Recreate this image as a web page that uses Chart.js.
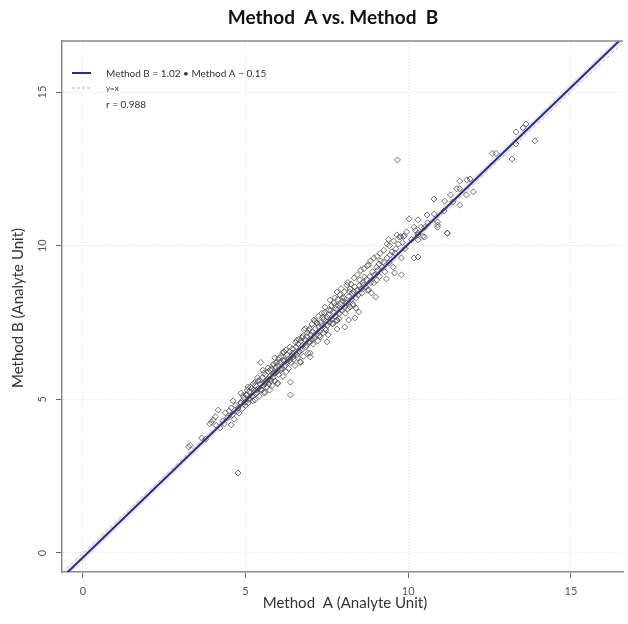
<!DOCTYPE html>
<html>
<head>
<meta charset="utf-8">
<script src="https://cdn.jsdelivr.net/npm/chart.js@4/dist/chart.umd.min.js"></script>
<style>
html,body{margin:0;padding:0;background:#fff;}
#wrap{width:628px;height:624px;}
</style>
</head>
<body>
<div id="wrap"><canvas id="chart" width="628" height="624"></canvas></div>
<script>

// tick labels
const xTicks = [0, 5, 10, 15]
const yTicks = [0, 5, 10, 15]

// regression shown in legend
const slope = 1.02
const intercept = -0.15
const rValue = "0.988"

// Method A values (x)
const methodA = [
3.25,3.3,3.65,3.77,3.9,3.95,4.01,4.07,4.16,4.22,4.1,4.3,4.35,4.38,4.45,4.5,4.56,4.56,4.6,4.65,
4.7,4.77,4.77,4.8,4.85,4.86,4.86,4.9,4.95,5.0,5.02,5.05,5.08,5.1,5.12,5.15,5.2,5.22,5.25,5.29,
5.3,5.35,5.38,5.4,5.42,5.45,5.47,5.5,5.52,5.55,5.58,5.59,5.6,5.62,5.65,5.68,5.7,5.72,5.74,5.75,
5.78,5.8,5.82,5.85,5.88,5.9,5.9,5.92,5.95,5.98,5.99,6.0,6.02,6.05,6.08,6.1,6.12,6.15,6.18,6.2,
6.22,6.25,6.28,6.3,6.32,6.35,6.38,6.38,6.4,6.42,6.45,6.48,6.5,6.52,6.55,6.58,6.6,6.62,6.65,6.68,
6.69,6.7,6.72,6.75,6.78,6.8,6.82,6.85,6.88,6.9,6.92,6.95,6.99,6.99,6.99,7.0,7.02,7.05,7.08,7.1,
7.12,7.15,7.18,7.2,7.22,7.25,7.28,7.3,7.32,7.35,7.38,7.4,7.42,7.45,7.48,7.5,7.5,7.52,7.55,7.58,
7.6,7.62,7.65,7.68,7.7,7.72,7.75,7.78,7.8,7.81,7.81,7.81,7.85,7.88,7.9,7.92,7.95,7.98,8.02,8.05,
8.05,8.08,8.11,8.11,8.15,8.17,8.18,8.21,8.21,8.25,8.28,8.3,8.33,8.36,8.36,8.39,8.4,8.43,8.46,8.48,
8.5,8.51,8.55,8.58,8.6,8.63,8.66,8.7,8.72,8.75,8.78,8.78,8.82,8.85,8.87,8.9,8.94,8.96,9.0,9.03,
9.03,9.06,9.1,9.12,9.15,9.2,9.24,9.28,9.33,9.35,9.39,9.42,9.42,9.45,9.5,9.54,9.58,9.6,9.62,9.67,
9.7,9.73,9.76,9.79,9.79,9.82,9.85,9.88,9.9,9.95,10.03,10.1,10.18,10.18,10.22,10.3,10.3,10.3,10.3,10.3,
10.4,10.45,10.5,10.5,10.58,10.6,10.79,10.8,10.9,10.9,10.9,11.1,11.12,11.2,11.2,11.3,11.37,11.49,11.58,11.58,
11.58,11.79,11.8,11.9,12.0,12.58,12.7,13.19,13.31,13.31,13.53,13.62,13.89,
5.05,5.18,5.28,5.33,5.44,5.56,5.64,5.76,5.84,5.96,6.04,6.14,6.24,6.34,6.44,6.54,6.64,6.74,6.84,6.94,
7.04,7.14,7.24,7.34,7.44,7.54,7.64,7.74,7.84,7.94,8.04,8.14,8.24,8.34,8.44,8.54,8.64,8.74,8.84,8.94,
9.04,9.14,9.25,9.35,9.55,9.65,
4.62,4.74,4.92,4.98,5.07,5.14,5.23,5.31,5.37,5.46,5.53,5.61,5.69,5.77,5.86,5.93,6.01,6.09,6.17,6.27,
6.36,6.46,6.57,6.66,6.76,6.87,6.97,7.07,7.17,7.27,7.37,7.47,7.57,7.67,7.77,7.87,7.97,8.07,8.19,8.31
]

// Method B values (y)
const methodB = [
3.45,3.5,3.74,3.7,4.2,4.26,4.33,4.43,4.65,4.07,4.15,4.3,4.2,4.56,4.4,4.62,4.72,4.17,4.5,4.35,
4.8,4.72,2.6,4.55,4.9,4.88,5.2,4.7,5.05,4.8,5.14,5.3,4.88,5.0,5.25,5.4,5.1,4.95,5.3,4.98,
5.45,5.2,5.6,5.35,5.1,5.5,6.2,5.3,5.7,5.45,5.2,5.24,5.55,5.8,5.4,5.65,5.9,5.5,5.3,5.75,
5.6,6.0,5.45,5.7,5.85,6.35,5.6,6.05,5.9,5.5,5.53,6.1,5.8,6.2,5.95,6.4,6.0,5.75,6.25,6.28,
6.1,5.9,6.45,6.3,6.0,6.55,5.56,5.14,6.2,6.4,6.65,6.3,6.5,6.1,6.7,6.45,6.35,6.8,6.55,6.2,
6.22,6.9,6.6,6.75,6.4,7.26,6.95,6.7,7.05,7.16,6.5,6.85,6.87,6.38,6.5,7.1,6.95,7.2,6.8,7.58,
7.0,7.3,7.1,7.48,6.9,7.35,7.2,7.03,7.5,7.4,7.15,7.6,7.81,7.3,7.55,7.68,6.87,7.4,7.75,7.5,
8.23,7.9,7.6,7.45,7.85,8.13,7.7,7.95,7.55,7.58,7.29,8.49,8.05,7.8,8.4,8.1,7.9,8.2,8.3,7.35,
8.0,8.15,8.13,8.72,7.95,7.58,8.35,8.0,8.59,8.25,8.45,8.1,8.5,8.66,7.65,7.97,8.3,8.55,8.4,7.84,
8.7,8.88,8.6,8.45,8.8,8.72,8.98,8.65,8.9,8.55,9.37,8.56,9.0,8.8,8.46,9.15,8.79,9.05,8.33,8.88,
9.3,9.2,9.4,9.0,9.5,9.3,9.47,9.15,8.92,9.6,10.2,10.0,9.44,9.7,9.8,9.3,9.11,9.76,9.9,12.79,
10.05,10.28,10.3,9.6,9.05,10.1,10.3,10.32,9.9,10.45,10.87,10.2,10.6,9.6,10.5,10.84,10.41,10.35,10.19,9.63,
10.6,10.3,10.6,10.28,11.0,10.75,11.52,11.03,10.77,10.6,10.67,11.13,11.45,10.41,10.4,11.65,11.42,11.85,11.85,11.32,
12.1,11.65,12.14,12.17,11.75,13.0,13.0,12.82,13.31,13.7,13.83,13.96,13.41,
5.15,5.35,5.55,5.3,5.62,5.85,5.6,5.95,6.1,6.2,6.35,6.5,6.6,6.25,6.5,6.85,6.95,7.0,7.3,7.25,
7.45,7.55,7.7,7.8,8.0,7.1,8.05,8.3,8.25,8.6,8.5,8.8,8.75,8.95,9.05,9.2,9.25,9.35,9.5,9.6,
9.65,9.75,9.85,10.05,10.15,10.35,
4.95,4.6,5.12,4.9,5.4,5.02,5.5,5.18,5.7,5.32,5.95,5.5,6.02,5.66,6.15,5.86,6.3,6.0,6.55,6.2,
6.7,6.38,6.92,6.55,7.05,6.75,7.3,6.95,7.5,7.08,7.68,7.25,7.9,7.48,8.05,7.62,8.3,7.8,8.5,8.05
]

const xMin = -0.64, xMax = 16.6
const yMin = -0.62, yMax = 16.66

const points = methodA.map((a, i) => ({x: a, y: methodB[i]}))
const fitLine = [{x: xMin, y: slope * xMin + intercept}, {x: xMax, y: slope * xMax + intercept}]
const idLine = [{x: xMin, y: xMin}, {x: xMax, y: xMax}]

const FONT = "Lato, 'Open Sans', 'Liberation Sans', sans-serif"

// R-like decorations: titles, tick labels, top border, legend box
const decorations = {
id: "decorations",
afterDraw(chart){
const ctx = chart.ctx
const xs = chart.scales.x, ys = chart.scales.y
const area = chart.chartArea
ctx.save()

// top border
ctx.strokeStyle = "#8a8a8a"
ctx.lineWidth = 1.5
ctx.beginPath()
ctx.moveTo(area.left, area.top)
ctx.lineTo(area.right, area.top)
ctx.stroke()

// main title
ctx.fillStyle = "#111"
ctx.font = "bold 19px " + FONT
ctx.textAlign = "center"
ctx.textBaseline = "middle"
ctx.fillText("Method  A vs. Method  B", 333, 18)

// tick labels
ctx.fillStyle = "#555"
ctx.font = "11px " + FONT
xTicks.forEach(v => {
ctx.fillText(String(v), xs.getPixelForValue(v), 591)
})
yTicks.forEach(v => {
ctx.save()
ctx.translate(42, ys.getPixelForValue(v))
ctx.rotate(-Math.PI / 2)
ctx.fillText(String(v), 0, 0)
ctx.restore()
})

// axis titles
ctx.fillStyle = "#333"
ctx.font = "15px " + FONT
ctx.fillText("Method  A (Analyte Unit)", 345, 603)
ctx.save()
ctx.translate(18, 308)
ctx.rotate(-Math.PI / 2)
ctx.fillText("Method B (Analyte Unit)", 0, 0)
ctx.restore()

// legend
ctx.lineWidth = 2
ctx.strokeStyle = "#2b2d86"
ctx.beginPath(); ctx.moveTo(72, 73); ctx.lineTo(91, 73); ctx.stroke()
ctx.lineWidth = 1
ctx.strokeStyle = "#d2b27e"
ctx.setLineDash([3, 2])
ctx.beginPath(); ctx.moveTo(72, 88); ctx.lineTo(91, 88); ctx.stroke()
ctx.setLineDash([])
ctx.textAlign = "left"
ctx.fillStyle = "#333"
ctx.font = "10px " + FONT
ctx.fillText("Method B = " + slope.toFixed(2) + " \u2022 Method A \u2212 " + Math.abs(intercept).toFixed(2), 106, 74)
ctx.font = "8px " + FONT
ctx.fillText("y=x", 106, 88)
ctx.font = "10px " + FONT
ctx.fillText("r = " + rValue, 106, 105)

ctx.restore()
}
}

const gridOpts = {
color: "#dedede",
tickColor: "#666",
tickBorderDash: [],
tickLength: 6,
drawTicks: true
}

new Chart(document.getElementById("chart"), {
type: "scatter",
data: {
datasets: [
{
label: "halo",
type: "line",
data: fitLine,
borderColor: "rgba(150,150,220,0.22)",
borderWidth: 6,
pointRadius: 0,
order: 3
},
{
label: "y=x",
type: "line",
data: idLine,
borderColor: "#d2b27e",
borderWidth: 1,
borderDash: [3, 3],
pointRadius: 0,
order: 2
},
{
label: "fit",
type: "line",
data: fitLine,
borderColor: "#2b2d86",
borderWidth: 2,
pointRadius: 0,
order: 1
},
{
label: "points",
data: points,
pointStyle: "rectRot",
pointRadius: 3,
borderWidth: 1,
borderColor: "rgba(70,70,70,0.75)",
backgroundColor: "rgba(0,0,0,0)",
order: 0
}
]
},
options: {
responsive: false,
animation: false,
events: [],
layout: {padding: {left: 0, top: 41, right: 0, bottom: 0}},
plugins: {legend: {display: false}, title: {display: false}, tooltip: {enabled: false}},
scales: {
x: {
type: "linear",
min: xMin,
max: xMax,
afterBuildTicks: s => { s.ticks = xTicks.map(v => ({value: v})) },
afterFit: s => { s.height = 52 },
ticks: {display: false},
grid: gridOpts,
border: {color: "#8a8a8a", width: 1.5, dash: [1, 2]}
},
y: {
type: "linear",
min: yMin,
max: yMax,
afterBuildTicks: s => { s.ticks = yTicks.map(v => ({value: v})) },
afterFit: s => { s.width = 62 },
ticks: {display: false},
grid: gridOpts,
border: {color: "#8a8a8a", width: 1.5, dash: [1, 2]}
}
}
},
plugins: [decorations]
})

</script>
</body>
</html>
